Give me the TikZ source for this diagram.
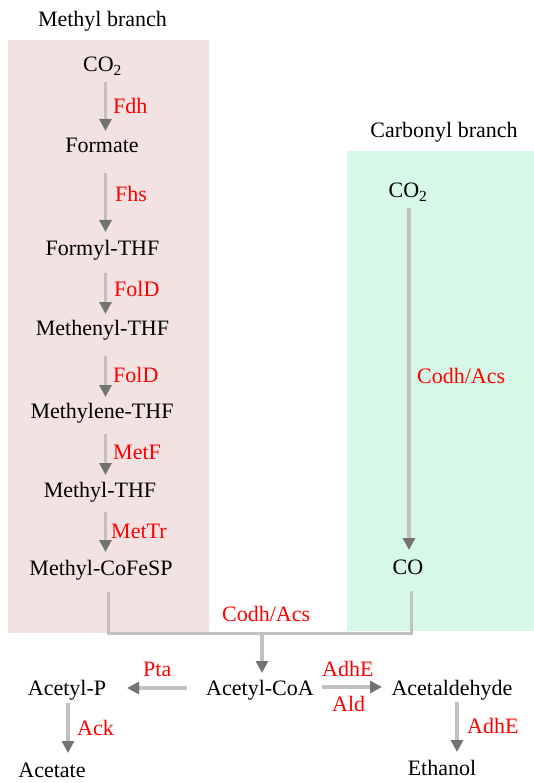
\documentclass[tikz,border=0pt]{standalone}
\usepackage{fontspec}
\setmainfont{Liberation Serif}
\usetikzlibrary{arrows.meta,calc}
\definecolor{pinkbg}{HTML}{F3E2E2}
\definecolor{greenbg}{HTML}{D6F9E7}
\definecolor{shaft}{HTML}{C4C0C0}
\definecolor{headc}{HTML}{737373}
\begin{document}
\begin{tikzpicture}[x=1pt,y=-1pt,
  txt/.style={anchor=base,inner sep=0pt,font=\fontsize{22}{26}\selectfont,text=black},
  lbl/.style={anchor=base west,inner sep=0pt,font=\fontsize{22}{26}\selectfont,text=red},
  arr/.style={draw=shaft,line width=3.5pt,-{Triangle[color=headc,length=12pt,width=12pt]}},
  conn/.style={draw=shaft,line width=3pt}]
\useasboundingbox (0,0) rectangle (534,783);
\fill[pinkbg] (8,40) rectangle (209,633);
\fill[greenbg] (347,151) rectangle (534,631);
% titles
\node[txt] (t1) at (102.5,27) {Methyl branch};
\node[txt] (t2) at (444,138) {Carbonyl branch};
% methyl branch
\node[txt] (co2a) at (102.5,72) {CO\textsubscript{2}};
\node[txt] (formate) at (102,153) {Formate};
\node[txt] (formyl) at (102.5,256) {Formyl-THF};
\node[txt] (methenyl) at (102.5,335) {Methenyl-THF};
\node[txt] (methylene) at (102,418) {Methylene-THF};
\node[txt] (methylthf) at (100,497) {Methyl-THF};
\node[txt] (cofesp) at (101,575) {Methyl-CoFeSP};
% carbonyl branch
\node[txt] (co2b) at (408,198) {CO\textsubscript{2}};
\node[txt] (co) at (408,574) {CO};
% bottom
\node[txt] (acoa) at (260,695) {Acetyl-CoA};
\node[txt] (acald) at (452,695) {Acetaldehyde};
\node[txt] (ethanol) at (442,775) {Ethanol};
\node[txt] (acp) at (67,695) {Acetyl-P};
\node[txt] (acetate) at (52,777.5) {Acetate};
% enzyme labels
\node[lbl] (fdh) at (113,114) {Fdh};
\node[lbl] (fhs) at (115,202) {Fhs};
\node[lbl] (fold1) at (114,296) {FolD};
\node[lbl] (fold2) at (113,382) {FolD};
\node[lbl] (metf) at (113,459) {MetF};
\node[lbl] (mettr) at (111,538) {MetTr};
\node[lbl] (codh1) at (417,383) {Codh/Acs};
\node[lbl] (codh2) at (222,621) {Codh/Acs};
\node[lbl] (adhe1) at (322,676) {AdhE};
\node[lbl] (ald) at (332,711) {Ald};
\node[lbl] (adhe2) at (467,733) {AdhE};
\node[lbl] (pta) at (143,676) {Pta};
\node[lbl] (ack) at (77,735) {Ack};
% methyl arrows
\draw[arr] ($(co2a.base)+(3,10)$) -- ($(formate.base)+(3.5,-22)$);
\draw[arr] ($(formate.base)+(3.5,20)$) -- ($(formyl.base)+(3,-24)$);
\draw[arr] ($(formyl.base)+(3,17)$) -- ($(methenyl.base)+(3,-21)$);
\draw[arr] ($(methenyl.base)+(3,21)$) -- ($(methylene.base)+(3.5,-21)$);
\draw[arr] ($(methylene.base)+(3.5,16)$) -- ($(methylthf.base)+(5.5,-22)$);
\draw[arr] ($(methylthf.base)+(5.5,15)$) -- ($(cofesp.base)+(4.5,-23)$);
% carbonyl arrow
\draw[arr] ($(co2b.base)+(1,10)$) -- ($(co.base)+(1,-24)$);
% merge connector
\draw[conn] ($(cofesp.base)+(7,17)$) |- ($(co.base)+(3,59)$) -- ($(co.base)+(3,17)$);
\coordinate (join) at (262,633);
\draw[arr] (join) -- ($(acoa.base)+(2,-22)$);
% bottom arrows
\draw[arr] ($(acoa.base)+(62,-8)$) -- ($(acald.base)+(-70,-8)$);
\draw[arr] ($(acoa.base)+(-73,-7)$) -- ($(acp.base)+(60,-7)$);
\draw[arr] ($(acp.base)+(1,8)$) -- ($(acetate.base)+(16,-24.5)$);
\draw[arr] ($(acald.base)+(5,7)$) -- ($(ethanol.base)+(15,-23)$);
\end{tikzpicture}
\end{document}
